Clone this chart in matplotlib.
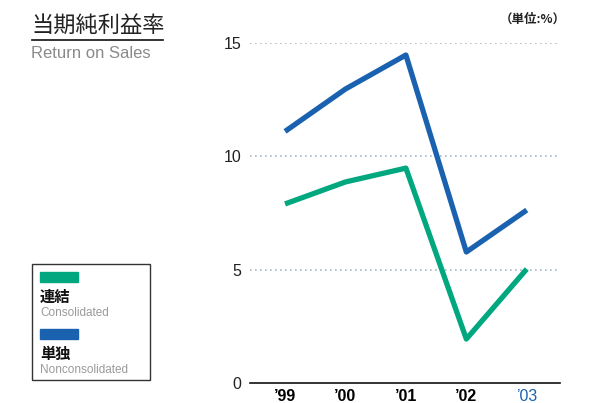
import matplotlib
matplotlib.use("Agg")
import matplotlib.pyplot as plt
from matplotlib.patches import Rectangle
from matplotlib.lines import Line2D

plt.rcParams['font.family'] = ['Liberation Sans', 'Noto Sans CJK JP', 'DejaVu Sans']

# データ
years = ["\u201999", "\u201900", "\u201901", "\u201902", "\u201903"]
consolidated = [7.9, 8.87, 9.48, 1.94, 5.03]      # 連結
nonconsolidated = [11.1, 12.97, 14.47, 5.78, 7.63]  # 単独
yticks = [0, 5, 10, 15]

green = "#00a77f"
blue = "#1a62b0"
grid_c = "#a8b7c5"

fig = plt.figure(figsize=(5.89, 4.03), dpi=100)
ax = fig.add_axes([250/589, 20/403, 310/589, 340/403])

x = range(len(years))
ax.plot(x, nonconsolidated, color=blue, lw=3.8, solid_capstyle='butt', zorder=3)
ax.plot(x, consolidated, color=green, lw=3.8, solid_capstyle='butt', zorder=3)

ax.set_xlim(-0.58, 4.55)
ax.set_ylim(0, 15)
ax.set_yticks(yticks)
ax.set_yticklabels([str(v) for v in yticks], fontsize=11.5, color="#222222")
for v in yticks[1:]:
    ax.axhline(v, color=grid_c, lw=1.2, ls=(0, (1, 2)), zorder=1)
ax.set_xticks(list(x))
ax.set_xticklabels(years, fontsize=11.5, fontweight='bold')
ax.get_xticklabels()[-1].set_color(blue)
ax.get_xticklabels()[-1].set_fontweight('normal')
ax.tick_params(axis='both', length=0, pad=4)
ax.tick_params(axis='y', pad=6)
for s in ['top', 'right', 'left']:
    ax.spines[s].set_visible(False)
ax.spines['bottom'].set_linewidth(1.2)
ax.spines['bottom'].set_color('#111111')
ax.patch.set_visible(False)

# タイトル
fig.text(31/589, 1 - 25/403, "当期純利益率", fontsize=16, va='center', ha='left',
         family=['Noto Sans CJK JP'], color="#222222")
fig.add_artist(Line2D([32/589, 163/589], [1 - 40/403, 1 - 40/403], color='#111111', lw=1.2))
fig.text(31/589, 1 - 53/403, "Return on Sales", fontsize=12, va='center', ha='left',
         color="#8a8a8a")
fig.text(566/589, 1 - 19/403, "（単位:%）", fontsize=9, va='center', ha='right',
         family=['Noto Sans CJK JP'], fontweight='bold', color="#222222")

# 凡例
fig.add_artist(Rectangle((32/589, 23/403), 118/589, 116/403, fill=False,
                         edgecolor='#333333', lw=1.0, transform=fig.transFigure))
fig.add_artist(Rectangle((40/589, 1 - 282/403), 38/589, 10/403, color=green,
                         transform=fig.transFigure))
fig.text(40/589, 1 - 297/403, "連結", fontsize=11, va='center', ha='left',
         family=['Noto Sans CJK JP'], fontweight='bold', color="#111111")
fig.text(40/589, 1 - 313/403, "Consolidated", fontsize=8.5, va='center', ha='left',
         color="#9a9a9a")
fig.add_artist(Rectangle((40/589, 1 - 339/403), 38/589, 10/403, color=blue,
                         transform=fig.transFigure))
fig.text(40/589, 1 - 354/403, "単独", fontsize=11, va='center', ha='left',
         family=['Noto Sans CJK JP'], fontweight='bold', color="#111111")
fig.text(40/589, 1 - 370/403, "Nonconsolidated", fontsize=8.5, va='center', ha='left',
         color="#9a9a9a")

fig.savefig("out.png", dpi=100)
